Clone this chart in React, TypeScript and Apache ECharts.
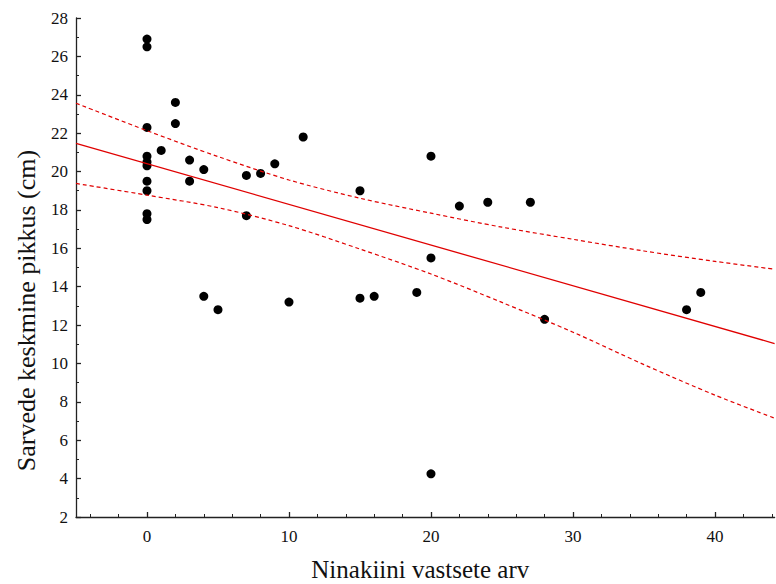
import React, { useEffect, useRef } from "react";
import * as echarts from "echarts";

// Scatter data
const xValues = [0, 0, 0, 0, 0, 0, 0, 0, 0, 0, 1, 2, 2, 3, 3, 4, 4, 5, 7, 7, 8, 9, 10, 11, 15, 15, 16, 19, 20, 20, 20, 22, 24, 27, 28, 38, 39];
const yValues = [26.9, 26.5, 22.3, 20.8, 20.5, 20.3, 19.5, 19.0, 17.8, 17.5, 21.1, 23.6, 22.5, 20.6, 19.5, 20.1, 13.5, 12.8, 19.8, 17.7, 19.9, 20.4, 13.2, 21.8, 19.0, 13.4, 13.5, 13.7, 20.8, 15.5, 4.25, 18.2, 18.4, 18.4, 12.3, 12.8, 13.7];

// Fitted line and confidence band
const fitX = [-5, 44.2];
const fitY = [21.47, 11.04];
const bandX = [-5, 0, 5, 10, 15, 20, 25, 30, 35, 40, 44.2];
const bandUpper = [23.56, 22.13, 20.78, 19.56, 18.61, 17.83, 17.1, 16.47, 15.86, 15.32, 14.91];
const bandLower = [19.38, 18.77, 18.12, 17.18, 15.96, 14.66, 13.18, 11.63, 9.94, 8.35, 7.15];

// Axis ticks
const xMajorTicks = [0, 10, 20, 30, 40];
const xMinorTicks = [-4, -2, 2, 4, 6, 8, 12, 14, 16, 18, 22, 24, 26, 28, 32, 34, 36, 38, 42, 44];

const xTitle = "Ninakiini vastsete arv";
const yTitle = "Sarvede keskmine pikkus (cm)";

const FONT = "Liberation Serif";
const RED = "#e00000";
const AXIS = "#222";

export default function App() {
  const ref = useRef<HTMLDivElement>(null);
  useEffect(() => {
    if (!ref.current) return;
    const chart = echarts.init(ref.current, undefined, { renderer: "svg" });
    const zip = (xs: number[], ys: number[]) => xs.map((x, i) => [x, ys[i]]);
    chart.setOption({
      animation: false,
      backgroundColor: "#fff",
      grid: { left: 76, right: 1.4, top: 18, bottom: 67, containLabel: false, outerBoundsMode: "none" },
      xAxis: [
        {
          type: "value",
          min: -5,
          max: 44.2,
          position: "bottom",
          axisLine: { show: true, onZero: false, lineStyle: { color: AXIS, width: 1.3 } },
          axisTick: { show: true, inside: true, length: 5, customValues: xMajorTicks, lineStyle: { color: AXIS, width: 1.3 } },
          axisLabel: { customValues: xMajorTicks, fontFamily: FONT, fontSize: 17, color: "#111", margin: 11 },
          splitLine: { show: false },
          name: xTitle,
          nameLocation: "middle",
          nameGap: 40,
          nameTextStyle: { fontFamily: FONT, fontSize: 25, color: "#111", padding: [0, 10, 0, 0] },
        },
        {
          type: "value",
          min: -5,
          max: 44.2,
          position: "bottom",
          axisLine: { show: false, onZero: false },
          axisTick: { show: true, inside: true, length: 3, customValues: xMinorTicks, lineStyle: { color: AXIS, width: 1 } },
          axisLabel: { show: false },
          splitLine: { show: false },
        },
      ],
      yAxis: {
        type: "value",
        min: 2,
        max: 28,
        interval: 2,
        axisLine: { show: true, onZero: false, lineStyle: { color: AXIS, width: 1.3 } },
        axisTick: { show: true, inside: true, length: 5, lineStyle: { color: AXIS, width: 1.3 } },
        minorTick: { show: true, splitNumber: 2, length: 3, lineStyle: { color: AXIS, width: 1 } },
        axisLabel: { fontFamily: FONT, fontSize: 17, color: "#111", margin: 8 },
        splitLine: { show: false },
        name: yTitle,
        nameLocation: "middle",
        nameGap: 37,
        nameTextStyle: { fontFamily: FONT, fontSize: 26, color: "#111", padding: [0, 86, 0, 0] },
      },
      series: [
        {
          type: "scatter",
          data: zip(xValues, yValues),
          symbol: "circle",
          symbolSize: 9,
          itemStyle: { color: "#000", opacity: 1 },
          z: 2,
        },
        {
          type: "line",
          data: zip(fitX, fitY),
          showSymbol: false,
          lineStyle: { color: RED, width: 1.3 },
          z: 3,
        },
        {
          type: "line",
          data: zip(bandX, bandUpper),
          showSymbol: false,
          smooth: 0.3,
          lineStyle: { color: RED, width: 1.2, type: [4, 3] },
          z: 3,
        },
        {
          type: "line",
          data: zip(bandX, bandLower),
          showSymbol: false,
          smooth: 0.3,
          lineStyle: { color: RED, width: 1.2, type: [4, 3] },
          z: 3,
        },
      ],
    });
    return () => chart.dispose();
  }, []);
  return (
    <div
      ref={ref}
      style={{ position: "absolute", left: 0, top: 0, width: 776, height: 584, background: "#fff" }}
    />
  );
}
